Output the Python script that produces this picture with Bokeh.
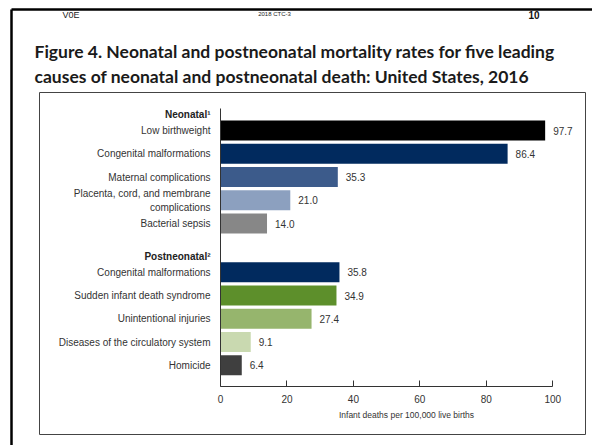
from bokeh.plotting import figure
from bokeh.models import ColumnDataSource, Label, FixedTicker, LinearAxis, Range1d
from bokeh.core.properties import value
from bokeh.embed import file_html
from bokeh.resources import INLINE

# ---- data ----
groups = ["Neonatal\u00b9", "Postneonatal\u00b2"]
neonatal_causes = ["Low birthweight", "Congenital malformations", "Maternal complications",
                   "Placenta, cord, and membrane\ncomplications", "Bacterial sepsis"]
neonatal_rates = [97.7, 86.4, 35.3, 21.0, 14.0]
neonatal_colors = ["#000000", "#012a5e", "#3c5b8b", "#8ca0bf", "#878787"]
post_causes = ["Congenital malformations", "Sudden infant death syndrome", "Unintentional injuries",
               "Diseases of the circulatory system", "Homicide"]
post_rates = [35.8, 34.9, 27.4, 9.1, 6.4]
post_colors = ["#012a5e", "#5d8f2b", "#96b56d", "#c9d9b0", "#3f3f3f"]
x_ticks = [0, 20, 40, 60, 80, 100]

title_lines = ["Figure 4. Neonatal and postneonatal mortality rates for five leading",
               "causes of neonatal and postneonatal death: United States, 2016"]
x_label = "Infant deaths per 100,000 live births"

# ---- layout constants (pixels) ----
W, H = 592, 445
X0, X100 = 220.0, 552.3          # pixel columns of value 0 and 100
ROW, FIRST = 23.25, 130.0        # row pitch and centre of first bar (pixels)
GROUP_GAP = 2.1                  # distance in rows between the two groups
AXIS_Y, AXIS_TOP = 386.0, 108.0

ux = (X100 - X0) / 100.0
def xd(px):
    return (px - X0) / ux
def yd(py):
    return -(py - FIRST) / ROW

# ---- build rows ----
ys, rates, colors, labels, hy = [], [], [], [], []
for gi, (causes, vals, cols) in enumerate([(neonatal_causes, neonatal_rates, neonatal_colors),
                                           (post_causes, post_rates, post_colors)]):
    base = gi * (len(neonatal_causes) - 1 + GROUP_GAP)
    hy.append(-base)
    for j, (c, v, col) in enumerate(zip(causes, vals, cols)):
        ys.append(-(base + j))
        rates.append(v)
        colors.append(col)
        labels.append(c)

src = ColumnDataSource(dict(y=ys, rate=rates, color=colors, label=labels,
                            txt=["%.1f" % r for r in rates]))
hdr = ColumnDataSource(dict(y=hy, label=groups))

p = figure(width=W, height=H, x_range=Range1d(xd(0), xd(W)), y_range=Range1d(yd(H), yd(0)),
           output_backend="svg", toolbar_location=None, min_border=0,
           x_axis_location=None, y_axis_location=None)
p.outline_line_color = None
p.xgrid.grid_line_color = None
p.ygrid.grid_line_color = None
p.background_fill_color = "white"
p.border_fill_color = "white"

# page frames (decoration)
p.quad(left=[xd(39)], right=[xd(585)], top=[yd(92)], bottom=[yd(434)],
       fill_color=None, line_color="#444444", line_width=1)
p.segment(x0=[xd(11), xd(11)], y0=[yd(9), yd(9)], x1=[xd(W), xd(11)], y1=[yd(9), yd(H)],
          line_color="#000000", line_width=2.5)

p.hbar(y="y", right="rate", left=0, height=0.86, color="color", source=src, line_color=None)

FONT = "Liberation Sans"
p.text(x=0, y="y", text="label", source=src, x_offset=-10, text_align="right",
       text_baseline="middle", text_font=value(FONT), text_font_size="10px", text_color="#333333",
       text_line_height=1.25)
p.text(x="rate", y="y", text="txt", source=src, x_offset=8, text_align="left",
       text_baseline="middle", text_font=value(FONT), text_font_size="10px", text_color="#333333")
p.text(x=0, y="y", text="label", source=hdr, x_offset=-10, y_offset=-16, text_align="right",
       text_baseline="middle", text_font=value(FONT), text_font_size="10px", text_color="#222222",
       text_font_style="bold")

# axes at fixed locations
xaxis = LinearAxis(fixed_location=yd(AXIS_Y), bounds=(0, 100), ticker=FixedTicker(ticks=x_ticks))
xaxis.minor_tick_line_color = None
xaxis.major_tick_in = 6
xaxis.major_tick_out = 0
xaxis.axis_line_color = "#333333"
xaxis.major_tick_line_color = "#333333"
xaxis.major_label_text_font = FONT
xaxis.major_label_text_font_size = "10px"
xaxis.major_label_text_color = "#333333"
xaxis.major_label_standoff = 8
p.add_layout(xaxis, "below")

yaxis = LinearAxis(fixed_location=0, bounds=(yd(AXIS_Y), yd(AXIS_TOP)), ticker=FixedTicker(ticks=[]))
yaxis.major_label_text_font_size = "0px"
yaxis.major_tick_line_color = None
yaxis.minor_tick_line_color = None
yaxis.axis_line_color = "#333333"
p.add_layout(yaxis, "left")

p.add_layout(Label(x=xd(406), y=yd(414), text=x_label, text_align="center",
                   text_baseline="middle", text_font=FONT, text_font_size="8.5px",
                   text_color="#333333"))

p.add_layout(Label(x=xd(62), y=yd(14), text="V0E", text_align="left", text_baseline="middle",
                   text_font=FONT, text_font_size="9px", text_color="#222222"))
p.add_layout(Label(x=xd(274), y=yd(13), text="2018 CTC-3", text_align="center",
                   text_baseline="middle", text_font=FONT, text_font_size="6px",
                   text_color="#222222"))
p.add_layout(Label(x=xd(528), y=yd(14), text="10", text_align="left", text_baseline="middle",
                   text_font=FONT, text_font_size="10px", text_font_style="bold",
                   text_color="#111111"))
for t, by in zip(title_lines, [50.5, 76]):
    p.add_layout(Label(x=xd(34), y=yd(by), text=t, text_align="left",
                       text_baseline="alphabetic", text_font="Lato", text_font_size="17.5px",
                       text_font_style="bold", text_color="#1a1a1a"))

open("out.html", "w").write(file_html(p, INLINE))
